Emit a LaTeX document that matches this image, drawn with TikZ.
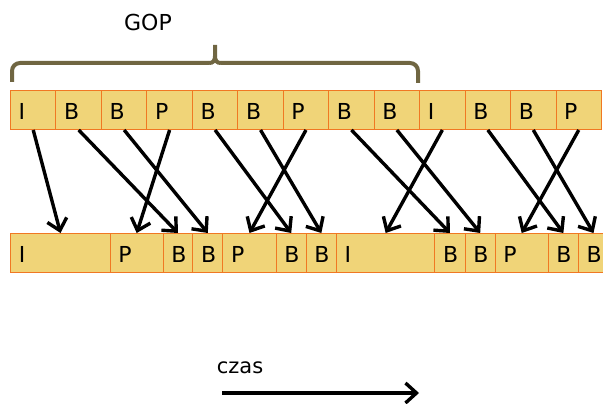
\documentclass[tikz,border=0pt]{standalone}
\usepackage{fontspec}
\setmainfont{DejaVu Sans}
\usetikzlibrary{arrows.meta}
\definecolor{cellfill}{RGB}{240,212,120}
\definecolor{celledge}{RGB}{240,120,35}
\definecolor{bracecol}{RGB}{112,102,66}
\tikzset{
  cell/.style={draw=celledge, fill=cellfill, line width=1pt, rectangle,
    anchor=north west, inner sep=0pt, minimum height=39pt},
  lbl/.style={anchor=base west, inner sep=0pt, font=\fontsize{22}{26}\selectfont},
  dep/.style={line width=3.4pt, -{Straight Barb[length=11pt,width=20pt]}},
  gopbrace/.style={draw=bracecol, line width=4pt, rounded corners=8pt},
}
\begin{document}
\begin{tikzpicture}[x=1pt,y=-1pt]
\useasboundingbox (0,0) rectangle (603,404);

% display order (top row)
\foreach \t [count=\i from 0] in {I,B,B,P,B,B,P,B,B,I,B,B,P}{
  \pgfmathsetmacro{\xl}{10+45.46*\i}
  \node[cell, minimum width=45.46pt] (t\i) at (\xl,90) {};
  \node[lbl] at (\xl+8.5,119) {\t};
}

% decoding order (bottom row)
\foreach \xl/\xr/\t [count=\i from 0] in {
  10.3/109.7/I, 109.7/162.7/P, 162.7/192.3/B, 192.3/222.3/B,
  222.3/275.7/P, 275.7/305.7/B, 305.7/336/B, 336/434.3/I,
  434.3/464.7/B, 464.7/494.7/B, 494.7/547.7/P, 547.7/578/B, 578/608/B}{
  \pgfmathsetmacro{\w}{\xr-\xl}
  \node[cell, minimum width=\w pt] (b\i) at (\xl,233) {};
  \node[lbl] at (\xl+8.5,262) {\t};
}

% reordering of frames
\foreach \s/\e in {0/0,1/2,2/3,3/1,4/5,5/6,6/4,7/8,8/9,9/7,10/11,11/12,12/10}{
  \draw[dep] (t\s.south) -- (b\e.north);
}

% GOP brace
\draw[gopbrace] (12,82) -- (12,63) -- (209,63);
\draw[draw=bracecol, line width=4pt] (209,63) .. controls (213,63) and (215,61) .. (215,56) -- (215,45);
\draw[draw=bracecol, line width=4pt] (215,56) .. controls (215,61) and (217,63) .. (221,63);
\draw[gopbrace] (221,63) -- (418,63) -- (418,83);
\node[lbl, anchor=center, font=\fontsize{22}{26}\selectfont] (gop) at (148,22) {GOP};

% time axis
\coordinate (t0ax) at (222,393);
\coordinate (t1ax) at (419,393);
\draw[dep] (t0ax) -- (t1ax);
\node[lbl, anchor=center, font=\fontsize{21}{25}\selectfont] (czas) at (240,368) {czas};
\end{tikzpicture}
\end{document}
